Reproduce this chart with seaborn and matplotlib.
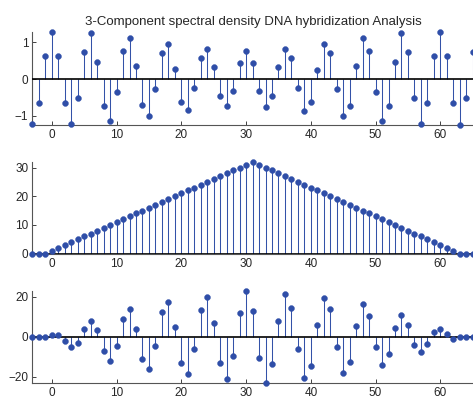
import numpy as np
import pandas as pd
import matplotlib
matplotlib.use("Agg")
import matplotlib.pyplot as plt
import seaborn as sns

# Muestras (eje x común)
n = list(range(-3, 66))

# Componente 1: señal oscilante
comp1 = [-1.22, -0.66, 0.62, 1.27, 0.62, -0.66, -1.22, -0.52, 0.73, 1.24,
         0.46, -0.74, -1.13, -0.35, 0.77, 1.10, 0.35, -0.71, -1.00, -0.27,
         0.71, 0.96, 0.26, -0.61, -0.85, -0.24, 0.57, 0.82, 0.33, -0.46,
         -0.74, -0.32, 0.44, 0.76, 0.43, -0.33, -0.75, -0.47, 0.32, 0.82,
         0.56, -0.24, -0.86, -0.61, 0.25, 0.95, 0.71, -0.28, -1.00, -0.72,
         0.34, 1.10, 0.76, -0.35, -1.13, -0.74, 0.45, 1.24, 0.73, -0.52,
         -1.22, -0.66, 0.62, 1.27, 0.62, -0.66, -1.25, -0.52, 0.73]

# Componente 2: densidad triangular
comp2 = [0, 0, 0, 1, 2, 3, 4, 5, 6, 7, 8, 9, 10, 11, 12, 13, 14, 15, 16, 17,
         18, 19, 20, 21, 22, 23, 24, 25, 26, 27, 28, 29, 30, 31, 32, 31, 30,
         29, 28, 27, 26, 25, 24, 23, 22, 21, 20, 19, 18, 17, 16, 15, 14, 13,
         12, 11, 10, 9, 8, 7, 6, 5, 4, 3, 2, 1, 0, 0, 0]

# Componente 3: producto modulado
comp3 = [0, 0, 0, 1, 1, -2, -5, -3, 4, 8, 3.5, -7, -12, -4.6, 8.6, 13.7, 4,
         -11.4, -16.3, -4.5, 12.2, 17.1, 5, -13.3, -18.8, -6, 13.2, 19.8, 7,
         -13.3, -21.4, -9.6, 11.6, 23, 12.8, -10.5, -23.4, -13.5, 7.6, 21.2,
         14.3, -6.4, -20.7, -14.6, 5.6, 19.3, 13.7, -5.4, -18.3, -12.5, 5.1,
         16.3, 10.4, -5.1, -14.2, -8.6, 4.1, 10.9, 5.6, -4, -7.6, -3.5, 2.1,
         3.6, 1.2, -1, 0, 0, 0]

yticks = [[-1, 0, 1], [0, 10, 20, 30], [-20, 0, 20]]
ylims = [(-1.25, 1.27), (0, 32), (-23.4, 23)]
titulo = "3-Component spectral density DNA hybridization Analysis"

sns.set_style("white")
plt.rcParams['font.family'] = ['Liberation Sans', 'DejaVu Sans']

stem_color = "#3352a8"
mark_color = "#2f4ea8"

fig = plt.figure(figsize=(4.73, 4.05), dpi=100)
posiciones = [
    [0.0685, 0.691, 0.935, 0.2296],
    [0.0685, 0.3736, 0.935, 0.227],
    [0.0685, 0.0536, 0.935, 0.2286],
]

for i, serie in enumerate([comp1, comp2, comp3]):
    ax = fig.add_axes(posiciones[i])
    df = pd.DataFrame({"n": n, "valor": serie})
    ax.vlines(df["n"], 0, df["valor"], color=stem_color, linewidth=0.75, zorder=2)
    ax.axhline(0, color="black", linewidth=1.2, zorder=3)
    sns.scatterplot(data=df, x="n", y="valor", ax=ax, color=mark_color, s=18,
                    edgecolor=mark_color, linewidth=0.3, zorder=4, clip_on=False)
    ax.set_xlim(-3, 65.3)
    ax.set_ylim(*ylims[i])
    ax.set_xticks([0, 10, 20, 30, 40, 50, 60])
    ax.set_yticks(yticks[i])
    ax.set_xlabel("")
    ax.set_ylabel("")
    for s in ["top", "right"]:
        ax.spines[s].set_visible(False)
    for s in ["left", "bottom"]:
        ax.spines[s].set_color("#555555")
        ax.spines[s].set_linewidth(0.8)
    ax.tick_params(direction="in", length=3, width=0.6, color="#222222",
                   labelsize=8.5, pad=3, left=True, bottom=True)
    if i == 0:
        ax.set_title(titulo, fontsize=9.5, pad=5)

fig.savefig("out.png", dpi=100)
